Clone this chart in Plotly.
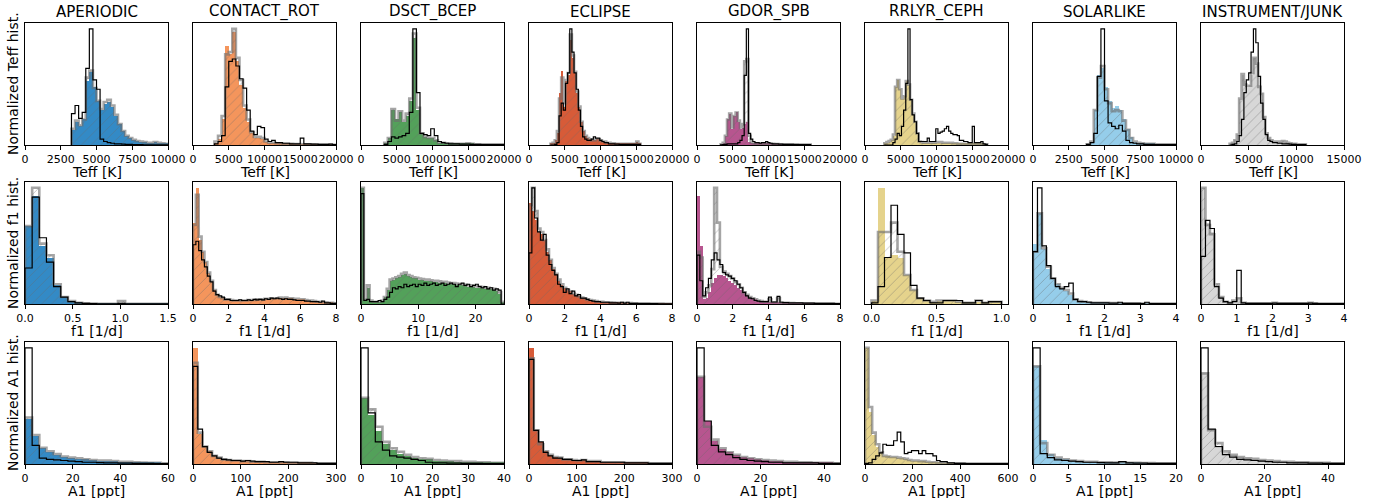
import plotly.graph_objects as go

CLASSES = ["APERIODIC", "CONTACT_ROT", "DSCT_BCEP", "ECLIPSE", "GDOR_SPB",
           "RRLYR_CEPH", "SOLARLIKE", "INSTRUMENT/JUNK"]
COLORS = ["#338ac6", "#f4955c", "#53a15a", "#d75b38", "#b7558f",
          "#e5d38c", "#95cdea", "#d7d7d7"]

ROW_FEATURES = ["Teff [K]", "f1 [1/d]", "A1 [ppt]"]
ROW_YLABELS = ["Normalized Teff hist.", "Normalized f1 hist.", "Normalized A1 hist."]

# ---------------- Row 1 : Teff  (bins = [first edge, width]) ----------------
TEFF_APERIODIC_BINS = [3250, 250]
TEFF_APERIODIC_CLS = [13, 20, 16, 22, 55, 63, 50, 38, 30, 35, 37, 33, 25, 18, 12, 8, 6, 4.5, 3.5, 3, 2.5, 2, 2, 2.5, 2, 1.5, 1]
TEFF_APERIODIC_REF = [14, 21, 17, 22, 58, 64, 49, 38, 31, 37, 39, 34, 26, 18, 12, 8, 6, 4.5, 3.5, 3, 2.5, 2, 2, 2.5, 2, 1.5, 1]
TEFF_APERIODIC_OTH = [27, 34, 23, 28, 66, 100, 56, 48, 5, 3, 2, 1.5, 1, 1, 0.8, 0.6, 0.5, 0.4, 0.3, 0.3, 0.2, 0.2, 0.2, 0.2, 0.1, 0.1, 0.1]

TEFF_CONTACT_BINS = [3000, 500]
TEFF_CONTACT_CLS = [2, 5, 22, 85, 78, 97, 72, 52, 32, 20, 10, 6, 6, 5, 3, 2, 2, 1.5, 1.5, 1, 1, 1, 0.8, 0.8, 0.6, 0.6, 0.5, 0.5, 0.4, 0.4, 0.3, 0.3, 0.3, 0.2]
TEFF_CONTACT_REF = [3, 8, 25, 78, 80, 100, 75, 56, 34, 22, 11, 7, 7, 6, 3, 2, 2, 1.5, 1.5, 1, 1, 1, 0.8, 0.8, 0.6, 0.6, 0.5, 0.5, 0.4, 0.4, 0.3, 0.3, 0.3, 0.2]
TEFF_CONTACT_OTH = [1, 3, 8, 50, 72, 74, 68, 57, 49, 30, 12, 9, 16, 15, 5, 3, 4, 2, 2, 1.5, 1.5, 1, 1, 1, 6, 1, 1, 0.8, 0.8, 0.6, 0.5, 0.5, 0.8, 0.3]

TEFF_DSCT_BINS = [3250, 500]
TEFF_DSCT_CLS = [2, 6, 30, 22, 28, 20, 25, 38, 92, 30, 10, 7, 6, 6, 4, 2, 2, 1.5, 1.5, 1, 1, 1, 1, 1.5, 1, 0.5, 0.5, 0.5, 0.5, 0.5, 0.5, 0.5, 0.5, 0.5]
TEFF_DSCT_REF = [2, 6, 31, 21, 29, 21, 27, 40, 96, 32, 10, 7, 6, 6, 4, 2, 2, 1.5, 1.5, 1, 1, 1, 1, 1.5, 1, 0.5, 0.5, 0.5, 0.5, 0.5, 0.5, 0.5, 0.5, 0.5]
TEFF_DSCT_OTH = [0.5, 3, 7, 6, 7, 8, 10, 28, 100, 45, 10, 9, 8, 14, 8, 3, 2, 1.5, 1, 1, 1, 0.8, 0.8, 0.8, 0.6, 0.5, 0.5, 0.4, 0.4, 0.3, 0.3, 0.3, 0.3, 0.3]

TEFF_ECLIPSE_BINS = [3000, 300]
TEFF_ECLIPSE_CLS = [1, 2, 4, 10, 45, 64, 33, 55, 60, 90, 75, 62, 45, 33, 20, 12, 8, 6, 5, 4, 4, 5, 5, 4, 3, 3, 2, 2, 1.5, 1.5, 1, 1, 1, 1, 1, 1, 1, 1, 1, 1, 3, 1]
TEFF_ECLIPSE_REF = [1, 2, 4, 12, 40, 58, 36, 56, 62, 95, 77, 63, 46, 33, 20, 12, 8, 6, 5, 4, 4, 5, 5, 4, 3, 3, 2, 2, 1.5, 1.5, 1, 1, 1, 1, 1, 1, 1, 1, 1, 1, 3, 1]
TEFF_ECLIPSE_OTH = [0, 0, 0.5, 2, 25, 36, 30, 53, 62, 100, 80, 62, 48, 30, 16, 7, 5, 4, 4, 5, 7, 6, 6, 4, 3, 2, 2, 1, 1, 1, 0.8, 0.8, 0.6, 0.6, 0.5, 0.5, 0.5, 0.5, 0.5, 0.5, 0.5, 0.5]

TEFF_GDOR_BINS = [3300, 300]
TEFF_GDOR_CLS = [0.5, 2, 8, 22, 27, 14, 25, 28, 20, 14, 15, 18, 20, 3, 1.5, 1, 1, 1, 1, 1, 1.5, 1, 1, 1, 1, 0.8, 0.8, 0.6, 0.6, 0.5, 0.5, 0.5, 0.5, 0.5, 0.5, 0.5, 0.4, 0.4, 0.4, 0.3, 0.3, 0.3]
TEFF_GDOR_REF = [0.5, 2, 8, 22, 27, 15, 25, 28, 21, 15, 18, 72, 74, 8, 2, 1.5, 1, 1, 1, 1, 1.5, 1, 1, 1, 1, 0.8, 0.8, 0.6, 0.6, 0.5, 0.5, 0.5, 0.5, 0.5, 0.5, 0.5, 0.4, 0.4, 0.4, 0.3, 0.3, 0.3]
TEFF_GDOR_OTH = [0.2, 0.3, 0.5, 1, 1, 1, 1, 1, 2, 4, 8, 60, 100, 10, 5, 3, 2, 2, 1.5, 2, 2, 3, 2, 1.5, 1, 1, 1, 0.8, 0.8, 0.6, 0.6, 0.5, 0.5, 0.5, 0.4, 0.4, 0.4, 0.3, 0.3, 0.3, 0.3, 0.3]

TEFF_RRLYR_BINS = [2700, 300]
TEFF_RRLYR_CLS = [1, 2, 3, 4, 8, 50, 56, 48, 40, 42, 55, 52, 39, 27, 20, 10, 3, 2, 2, 1.5, 2, 2, 1.5, 2, 2, 2, 2, 2, 2, 2, 2, 2, 1.5, 1.5, 1, 1, 1, 1, 1, 1, 1, 1, 1, 1, 1, 1, 0.5, 0.5]
TEFF_RRLYR_REF = [1.5, 2.5, 3.5, 4.5, 9, 50, 56, 48, 40, 42, 55, 52, 39, 27, 20, 10, 3, 2.5, 2, 2, 2, 2, 2, 2, 2.5, 2.5, 2.5, 2, 2, 2, 2, 2, 1.5, 1.5, 1, 1, 1, 1, 1, 1, 1, 1, 1, 1, 1, 1, 0.5, 0.5]
TEFF_RRLYR_OTH = [0, 0, 0, 0, 2, 5, 10, 8, 16, 30, 53, 100, 39, 26, 20, 10, 3, 3, 3, 3, 6, 3, 3, 3, 14, 10, 11, 12, 14, 16, 12, 10, 9, 9, 8, 4, 4, 3, 3, 2, 2, 16, 2, 2, 2, 3, 1, 0.5]

TEFF_SOLAR_BINS = [3750, 250]
TEFF_SOLAR_CLS = [0.5, 3, 30, 60, 66, 50, 38, 32, 34, 30, 22, 14, 7, 3, 2, 1.5, 1, 1, 1, 0.5, 0.5, 0.5, 0.5, 0.5, 0.5]
TEFF_SOLAR_REF = [0.5, 3, 30, 58, 68, 48, 36, 29, 30, 29, 21, 13, 6, 3, 2, 1.5, 1, 1, 1, 0.5, 0.5, 0.5, 0.5, 0.5, 0.5]
TEFF_SOLAR_OTH = [0.5, 2, 10, 59, 100, 38, 19, 16, 14, 17, 12, 4, 2, 1.5, 1, 1, 0.5, 0.5, 0.5, 0.3, 0.3, 0.3, 0.3, 0.3, 0.3]

TEFF_INSTR_BINS = [3000, 250]
TEFF_INSTR_CLS = [1, 2, 4, 9, 40, 60, 55, 50, 52, 60, 75, 70, 52, 45, 25, 10, 6, 4, 3, 3, 3, 3, 3.5, 3, 2, 1.5, 1, 1, 0.5, 0.5, 0.5, 0.5]
TEFF_INSTR_REF = [1, 2, 4, 9, 40, 61, 52, 51, 51, 62, 75, 70, 50, 44, 24, 10, 6, 4, 3, 3, 3, 3, 3.5, 3, 2, 1.5, 1, 1, 0.5, 0.5, 0.5, 0.5]
TEFF_INSTR_OTH = [0, 0.5, 1, 3, 8, 22, 45, 56, 62, 80, 100, 88, 59, 36, 22, 9, 4, 3, 2, 2, 1.5, 1.5, 1, 1, 1, 0.8, 0.5, 0.5, 0.3, 0.3, 0.3, 0.3]

# ---------------- Row 2 : f1 ----------------
F1_APERIODIC_BINS = [0, 0.075]
F1_APERIODIC_CLS = [67, 93, 50, 40, 16, 6, 2, 1, 0.5, 0.3, 0.2, 0.2, 0.2, 0.2, 0.2, 0.1, 0.1, 0.1, 0.1, 0.1]
F1_APERIODIC_REF = [67, 100, 52, 42, 17, 6, 2.5, 1, 0.5, 0.3, 0.2, 0.2, 0.2, 2.5, 0.2, 0.1, 0.1, 0.1, 0.1, 0.1]
F1_APERIODIC_OTH = [31, 92, 57, 36, 15, 6, 2, 1, 0.5, 0.3, 0.2, 0.2, 0.2, 0.5, 0.2, 0.1, 0.1, 0.1, 0.1, 0.1]

F1_CONTACT_BINS = [0, 0.16]
F1_CONTACT_CLS = [70, 100, 55, 45, 36, 27, 19, 12, 8, 6, 5, 4, 4, 3.5, 3, 3, 3, 3, 3, 3.5, 3.5, 3.5, 4, 4, 4, 4.5, 4.5, 5, 5, 5,
                  5.5, 5, 5.5, 5, 5, 4.5, 4.5, 4, 4, 3.5, 3, 3, 2.5, 2, 2, 1.5, 1.5, 1, 1, 0.5]
F1_CONTACT_REF = [68, 94, 58, 45, 36, 27, 20, 12, 8, 6, 5, 4, 4, 3.5, 3, 3, 3, 3, 3, 3.5, 3.5, 3.5, 4, 4, 4, 4.5, 4.5, 5, 5, 5,
                  5.5, 5, 5.5, 5, 5, 4.5, 4.5, 4, 4, 3.5, 3, 3, 2.5, 2, 2, 1.5, 1.5, 1, 1, 0.5]
F1_CONTACT_OTH = [51, 54, 46, 38, 32, 24, 19, 11, 8, 7, 6, 4, 4, 3, 3, 3, 3.5, 3, 3, 3.5, 3, 4, 3.5, 4, 3.5, 4.5, 4, 5, 4.5, 5,
                  4.5, 4, 4.5, 4, 4, 3.5, 3, 3, 3, 2.5, 2.5, 2, 2, 2, 1.5, 2.5, 1, 1, 0.5, 0.5]

F1_DSCT_BINS = [0, 0.5]
F1_DSCT_CLS = [100, 4, 14, 3, 2, 2, 2, 3, 6, 12, 20, 21, 22, 23, 25, 26, 24, 23, 22, 22,
               21, 20.5, 20, 20, 19.5, 19, 19, 18.5, 18, 18, 17.5, 17, 17, 16.5, 16, 16, 15.5, 15, 15, 14.5,
               14, 14, 13.5, 13, 13, 12.5, 12, 11, 9, 2]
F1_DSCT_REF = [100, 4, 16, 3, 2, 2, 2, 3, 6, 13, 21, 22, 23, 24, 26, 27, 25, 24, 23, 22.5,
               22, 21.5, 21, 21, 20.5, 20, 20, 19.5, 19, 19, 18.5, 18, 18, 17.5, 17, 17, 16.5, 16, 16, 15.5,
               15, 15, 14.5, 14, 14, 13.5, 13, 12, 10, 2]
F1_DSCT_OTH = [95, 3, 4, 2, 2, 2, 3, 2, 4, 6, 10, 14, 13, 15, 14, 17, 15, 16, 17, 15,
               17, 16, 18, 16, 17, 18, 16, 17, 18, 16, 17, 18, 17, 15, 17, 18, 16, 17, 15, 16,
               17, 15, 14, 15, 13, 14, 12, 13, 12, 0]

F1_ECLIPSE_BINS = [0, 0.16]
F1_ECLIPSE_CLS = [87, 80, 72, 62, 60, 55, 45, 38, 30, 26, 20, 16, 14, 12, 11, 9, 8, 6.5, 5.5, 5, 4, 3.5, 3, 2.5, 2, 2, 1.5, 1.5, 1.5, 1.2,
                  1, 1, 1, 0.8, 0.8, 0.8, 0.7, 0.7, 0.6, 0.6, 0.5, 0.5, 0.4, 0.4, 0.3, 0.3, 0.3, 0.2, 0.2, 0.2]
F1_ECLIPSE_REF = [85, 100, 80, 65, 62, 55, 47, 38, 31, 26, 21, 17, 14, 12, 11, 9, 8, 6.5, 5.5, 5, 4, 3.5, 3, 2.5, 2, 2, 1.5, 1.5, 1.5, 1.2,
                  1, 1, 1, 0.8, 0.8, 0.8, 0.7, 0.7, 0.6, 0.6, 0.5, 0.5, 0.4, 0.4, 0.3, 0.3, 0.3, 0.2, 0.2, 0.2]
F1_ECLIPSE_OTH = [44, 100, 74, 62, 55, 60, 42, 34, 29, 25, 17, 15, 10, 13, 9, 11, 7, 8, 5, 5, 4, 3, 2.5, 2, 2, 1.5, 1.5, 1.5, 1, 1,
                  1, 0.8, 1.5, 0.8, 1.5, 0.5, 0.5, 0.5, 0.4, 0.4, 0.4, 0.3, 0.3, 0.3, 0.3, 0.2, 0.2, 0.2, 0.2, 0.2]

F1_GDOR_BINS = [0, 0.16]
F1_GDOR_CLS = [93, 50, 4, 5, 10, 18, 22, 25, 25, 24, 22, 20, 18, 16, 14, 12, 10, 8, 6, 5, 4, 3, 2.5, 2, 1.5, 1.2, 1, 1, 1, 0.8,
               0.8, 0.7, 0.7, 0.6, 0.6, 0.5, 0.5, 0.5, 0.4, 0.4, 0.4, 0.3, 0.3, 0.3, 0.3, 0.3, 0.2, 0.2, 0.2, 0.2]
F1_GDOR_REF = [45, 40, 6, 10, 16, 30, 100, 70, 32, 28, 26, 24, 22, 19, 17, 14, 10, 8, 6, 5, 4, 3, 2.5, 2, 2, 4, 1.5, 1.5, 5, 1.2,
               1, 1, 0.8, 0.8, 0.7, 0.7, 0.6, 0.6, 0.5, 0.5, 0.5, 0.4, 0.4, 0.4, 0.3, 0.3, 0.3, 0.3, 0.2, 0.2]
F1_GDOR_OTH = [42, 20, 7, 14, 22, 38, 44, 38, 34, 27, 25, 24, 22, 20, 17, 14, 10, 7, 5, 4.5, 3, 2.5, 2, 2, 2, 6, 1.7, 1.7, 6.6, 1.5,
               1.2, 1.2, 1, 1, 1, 1, 1, 0.8, 0.8, 0.8, 0.8, 0.6, 0.6, 0.6, 0.5, 0.5, 0.5, 0.5, 0.4, 0.4]

F1_RRLYR_BINS = [0, 0.05]
F1_RRLYR_CLS = [3, 100, 40, 42, 40, 25, 12, 5, 3, 2, 3, 3, 3, 2, 1, 1, 2, 1, 2, 2]
F1_RRLYR_REF = [3, 62, 62, 70, 45, 25, 12, 5, 3, 2, 3, 3, 3, 2, 1, 1, 3, 1, 2, 2]
F1_RRLYR_OTH = [1, 15, 40, 85, 60, 44, 16, 5, 3, 1, 1, 3, 3, 3, 1, 1, 3, 1, 2, 2]

F1_SOLAR_BINS = [0, 0.125]
F1_SOLAR_CLS = [52, 78, 47, 30, 22, 17, 13, 11, 8, 4, 2.5, 2, 1.5, 1, 1, 1, 1, 0.8, 0.8, 0.6, 0.6, 0.5, 0.5, 0.5, 0.4, 0.4, 0.4, 0.3, 0.3, 0.3, 0.3, 0.3]
F1_SOLAR_REF = [45, 78, 48, 32, 22, 17, 14, 12, 9, 4, 2.5, 2, 1.5, 1, 1, 1, 1, 0.8, 0.8, 0.6, 0.6, 0.5, 0.5, 0.5, 0.4, 0.4, 0.4, 0.3, 0.3, 0.3, 0.3, 0.3]
F1_SOLAR_OTH = [45, 100, 50, 33, 22, 15, 13, 15, 18, 4, 2, 2, 1.5, 1, 1, 1, 1, 0.8, 0.8, 1.5, 0.6, 0.5, 0.5, 0.5, 0.4, 1.5, 0.4, 0.3, 0.3, 0.3, 0.3, 0.3]

F1_INSTR_BINS = [0, 0.125]
F1_INSTR_CLS = [100, 70, 62, 16, 6, 2, 1, 3, 5, 1, 0.5, 0.5, 0.5, 0.5, 0.5, 0.5, 1, 0.5, 0.5, 0.5, 0.5, 0.5, 0.5, 0.5, 1, 0.5, 0.3, 0.3, 0.3, 0.3, 0.3, 0.3]
F1_INSTR_REF = [100, 68, 60, 17, 6, 2, 1, 3, 5, 1, 0.5, 0.5, 0.5, 0.5, 0.5, 0.5, 1, 0.5, 0.5, 0.5, 0.5, 0.5, 0.5, 0.5, 1, 0.5, 0.3, 0.3, 0.3, 0.3, 0.3, 0.3]
F1_INSTR_OTH = [41, 72, 65, 15, 5, 2, 1, 2, 29, 1, 0.5, 0.5, 0.5, 0.5, 0.5, 0.5, 0.8, 0.5, 0.5, 0.5, 0.5, 0.5, 0.5, 0.5, 0.8, 0.5, 0.3, 0.3, 0.3, 0.3, 0.3, 0.3]

# ---------------- Row 3 : A1 ----------------
A1_APERIODIC_BINS = [0, 3]
A1_APERIODIC_CLS = [39, 24, 13.5, 10.5, 8, 6, 5.5, 4.5, 4, 3.5, 3, 2.5, 2.5, 2, 1.5, 1.5, 1, 1, 1, 0.5]
A1_APERIODIC_REF = [40, 25, 14, 11, 8.5, 6.5, 5.5, 5, 4, 3.5, 3, 3, 2.5, 2, 2, 1.5, 1.2, 1, 1, 0.5]
A1_APERIODIC_OTH = [100, 16, 5, 4, 3.5, 3, 2.5, 2, 1.5, 1.5, 1.2, 1, 1, 0.8, 0.8, 0.6, 0.5, 0.5, 0.4, 0.3]

A1_CONTACT_BINS = [0, 10]
A1_CONTACT_CLS = [100, 26, 15, 11, 7, 5.5, 4, 3.5, 3, 3, 2.5, 2.5, 2, 2, 2, 1.5, 1.5, 1.5, 1.5, 1.5, 1, 1, 1, 1, 1, 0.5, 0.5, 0.5, 0.5, 0.5]
A1_CONTACT_REF = [87, 27, 15, 11, 7, 5.5, 4, 3.5, 3, 3, 2.5, 2.5, 2, 2, 2, 1.5, 1.5, 1.5, 1.5, 1.5, 1, 1, 1, 1, 1, 0.5, 0.5, 0.5, 0.5, 0.5]
A1_CONTACT_OTH = [84, 30, 15, 10, 7, 5, 4, 3.5, 3, 3, 2.5, 3, 2.5, 2, 2, 2, 1.5, 1.5, 2, 1.5, 1.5, 1.5, 1, 1, 1, 1, 0.5, 0.5, 0.5, 0.5]

A1_DSCT_BINS = [0, 2]
A1_DSCT_CLS = [57, 42, 28, 17, 12, 9, 7, 5.5, 4.5, 4, 3, 2.5, 2.5, 2, 2, 1.5, 1.5, 1, 1, 1]
A1_DSCT_REF = [57, 47, 32, 19, 13.5, 10.5, 8, 6, 5, 4.5, 3.5, 3, 2.5, 2.5, 2, 2, 1.5, 1.5, 1, 1]
A1_DSCT_OTH = [100, 44, 19, 12, 7, 6, 5, 4, 3, 1.5, 1, 1, 0.8, 0.8, 0.6, 0.5, 0.5, 0.4, 0.4, 0.3]

A1_ECLIPSE_BINS = [0, 10]
A1_ECLIPSE_CLS = [100, 29, 19, 11, 8, 6, 5.5, 4, 4, 3.5, 3, 3.5, 2.5, 2.5, 2.5, 1.5, 1.5, 1.5, 1.5, 1.5, 1, 1, 1, 1, 1, 0.5, 0.5, 0.5, 0.5, 0.5]
A1_ECLIPSE_REF = [91, 29, 17, 11, 8, 6, 5.5, 4, 4, 3.5, 3, 3.5, 2.5, 2.5, 2.5, 1.5, 1.5, 1.5, 1.5, 1.5, 1, 1, 1, 1, 1, 0.5, 0.5, 0.5, 0.5, 0.5]
A1_ECLIPSE_OTH = [90, 29, 19, 10, 7, 5, 5, 4, 4, 3, 3, 3.5, 2, 2, 2, 1.5, 1.5, 1.5, 1.5, 1.5, 1, 1, 1, 1, 1, 0.5, 0.5, 0.5, 0.5, 0.5]

A1_GDOR_BINS = [0, 2.25]
A1_GDOR_CLS = [75, 37, 20, 13, 10, 8, 6, 5, 4, 3.5, 3, 2.5, 2, 2, 1.5, 1.5, 1, 1, 1, 0.5]
A1_GDOR_REF = [75, 32, 21, 13.5, 10, 8, 6, 5, 4, 3.5, 3, 2.5, 2, 2, 1.5, 1.5, 1, 1, 1, 0.5]
A1_GDOR_OTH = [100, 37, 16, 10.5, 8, 5.5, 4, 3, 2.5, 2, 1.5, 1.5, 1, 1, 1, 1, 1, 0.5, 0.5, 0.5]

A1_RRLYR_BINS = [0, 15]
A1_RRLYR_CLS = [100, 45, 25, 15, 10, 7, 6.5, 6, 6, 5.5, 5, 4.5, 3.5, 3, 3, 2.5, 2.5, 2, 1.5, 1.5,
                1, 0.8, 0.7, 0.6, 0.5, 0.5, 0.5, 0.5, 0.4, 0.4, 0.4, 0.4, 0.3, 0.3, 0.3, 0.3, 0.3, 0.3, 0.3, 0.3]
A1_RRLYR_REF = [100, 49, 27, 17, 10, 7, 6.5, 6, 6, 5.5, 5, 4.5, 3.5, 3, 3, 2.5, 2.5, 2, 1.5, 1.5,
                1, 0.8, 0.7, 0.6, 0.5, 0.5, 0.5, 0.5, 0.4, 0.4, 0.4, 0.4, 0.3, 0.3, 0.3, 0.3, 0.3, 0.3, 0.3, 0.3]
A1_RRLYR_OTH = [0.5, 1, 4, 7, 9.5, 17, 16, 16, 20, 27.5, 19, 9, 10, 11.5, 11.5, 9, 11.5, 9, 9, 7,
                3, 2, 2, 1, 1, 0.5, 0.5, 0.5, 0.4, 0.4, 0.3, 0.3, 0.3, 0.3, 0.3, 0.3, 0.3, 0.3, 0.3, 0.3]

A1_SOLAR_BINS = [0, 1]
A1_SOLAR_CLS = [84, 21, 9, 5.5, 4, 3, 2.5, 2, 2, 1.5, 1.5, 1.2, 1.5, 1, 1, 0.8, 0.8, 0.6, 0.5, 0.5]
A1_SOLAR_REF = [84, 18, 8, 5.5, 4, 3, 2.5, 2, 2, 1.5, 1.5, 1.2, 1.5, 1, 1, 0.8, 0.8, 0.6, 0.5, 0.5]
A1_SOLAR_OTH = [100, 9, 5.5, 3.5, 3, 2.5, 2, 1.5, 1.5, 1.2, 1, 1, 2, 1, 0.8, 0.8, 0.6, 0.6, 0.5, 0.5]

A1_INSTR_BINS = [0, 2.25]
A1_INSTR_CLS = [78, 29, 13.5, 10.5, 8, 6, 5, 4.5, 3.5, 3, 2.5, 2, 2, 1.5, 1.5, 1, 1, 1, 0.5, 0.5]
A1_INSTR_REF = [78, 29, 18, 11, 8, 6, 5, 4.5, 3.5, 3, 2.5, 2, 2, 1.5, 1.5, 1, 1, 1, 0.5, 0.5]
A1_INSTR_OTH = [100, 30, 15, 8, 6, 4, 3.5, 3, 2.5, 2, 1.5, 1.5, 1, 1, 1, 0.8, 0.8, 0.5, 0.5, 0.5]

# ---------------- axes ----------------
X_RANGES = [
    [[0, 10000], [0, 20000], [0, 20000], [0, 20000], [0, 20000], [0, 20000], [0, 10000], [0, 15000]],
    [[0, 1.5], [0, 8], [0, 25], [0, 8], [0, 8], [-0.05, 1.05], [0, 4], [0, 4]],
    [[0, 60], [0, 300], [0, 40], [0, 300], [0, 45], [0, 600], [0, 20], [0, 45]],
]
X_TICKS = [
    [[0, 2500, 5000, 7500, 10000]] + [[0, 5000, 10000, 15000, 20000]] * 5
    + [[0, 2500, 5000, 7500, 10000], [0, 5000, 10000, 15000]],
    [[0, 0.5, 1.0, 1.5], [0, 2, 4, 6, 8], [0, 10, 20], [0, 2, 4, 6, 8], [0, 2, 4, 6, 8],
     [0, 0.5, 1.0], [0, 1, 2, 3, 4], [0, 1, 2, 3, 4]],
    [[0, 20, 40, 60], [0, 100, 200, 300], [0, 10, 20, 30, 40], [0, 100, 200, 300], [0, 20, 40],
     [0, 200, 400, 600], [0, 5, 10, 15, 20], [0, 20, 40]],
]
X_TICK_DECIMALS = [[0] * 8, [1, 0, 0, 0, 0, 1, 0, 0], [0] * 8]

PANELS = [
    [(TEFF_APERIODIC_BINS, TEFF_APERIODIC_CLS, TEFF_APERIODIC_REF, TEFF_APERIODIC_OTH),
     (TEFF_CONTACT_BINS, TEFF_CONTACT_CLS, TEFF_CONTACT_REF, TEFF_CONTACT_OTH),
     (TEFF_DSCT_BINS, TEFF_DSCT_CLS, TEFF_DSCT_REF, TEFF_DSCT_OTH),
     (TEFF_ECLIPSE_BINS, TEFF_ECLIPSE_CLS, TEFF_ECLIPSE_REF, TEFF_ECLIPSE_OTH),
     (TEFF_GDOR_BINS, TEFF_GDOR_CLS, TEFF_GDOR_REF, TEFF_GDOR_OTH),
     (TEFF_RRLYR_BINS, TEFF_RRLYR_CLS, TEFF_RRLYR_REF, TEFF_RRLYR_OTH),
     (TEFF_SOLAR_BINS, TEFF_SOLAR_CLS, TEFF_SOLAR_REF, TEFF_SOLAR_OTH),
     (TEFF_INSTR_BINS, TEFF_INSTR_CLS, TEFF_INSTR_REF, TEFF_INSTR_OTH)],
    [(F1_APERIODIC_BINS, F1_APERIODIC_CLS, F1_APERIODIC_REF, F1_APERIODIC_OTH),
     (F1_CONTACT_BINS, F1_CONTACT_CLS, F1_CONTACT_REF, F1_CONTACT_OTH),
     (F1_DSCT_BINS, F1_DSCT_CLS, F1_DSCT_REF, F1_DSCT_OTH),
     (F1_ECLIPSE_BINS, F1_ECLIPSE_CLS, F1_ECLIPSE_REF, F1_ECLIPSE_OTH),
     (F1_GDOR_BINS, F1_GDOR_CLS, F1_GDOR_REF, F1_GDOR_OTH),
     (F1_RRLYR_BINS, F1_RRLYR_CLS, F1_RRLYR_REF, F1_RRLYR_OTH),
     (F1_SOLAR_BINS, F1_SOLAR_CLS, F1_SOLAR_REF, F1_SOLAR_OTH),
     (F1_INSTR_BINS, F1_INSTR_CLS, F1_INSTR_REF, F1_INSTR_OTH)],
    [(A1_APERIODIC_BINS, A1_APERIODIC_CLS, A1_APERIODIC_REF, A1_APERIODIC_OTH),
     (A1_CONTACT_BINS, A1_CONTACT_CLS, A1_CONTACT_REF, A1_CONTACT_OTH),
     (A1_DSCT_BINS, A1_DSCT_CLS, A1_DSCT_REF, A1_DSCT_OTH),
     (A1_ECLIPSE_BINS, A1_ECLIPSE_CLS, A1_ECLIPSE_REF, A1_ECLIPSE_OTH),
     (A1_GDOR_BINS, A1_GDOR_CLS, A1_GDOR_REF, A1_GDOR_OTH),
     (A1_RRLYR_BINS, A1_RRLYR_CLS, A1_RRLYR_REF, A1_RRLYR_OTH),
     (A1_SOLAR_BINS, A1_SOLAR_CLS, A1_SOLAR_REF, A1_SOLAR_OTH),
     (A1_INSTR_BINS, A1_INSTR_CLS, A1_INSTR_REF, A1_INSTR_OTH)],
]

# ---------------- geometry / style ----------------
FW, FH = 1390, 498
COL_LEFT = [25 + 168 * i for i in range(8)]
COL_W = 143
ROW_PX = [(23, 145), (182, 304), (342, 464)]
FONT = "DejaVu Sans"
HATCH = "rgba(105,105,105,0.75)"
EDGE = "rgba(110,110,110,0.62)"


def step_xy(edges, vals):
    xs = [edges[0]] + edges[:-1] + [edges[-1], edges[-1]]
    ys = [0] + list(vals) + [vals[-1], 0]
    return xs, ys


fig = go.Figure()
annotations = []
layout_axes = {}

for r in range(3):
    top, bot = ROW_PX[r]
    yd = [1 - bot / FH, 1 - top / FH]
    for c in range(8):
        idx = r * 8 + c + 1
        xa = "x" if idx == 1 else f"x{idx}"
        ya = "y" if idx == 1 else f"y{idx}"
        bins, cls, ref, oth = PANELS[r][c]
        lo, w = bins
        n = len(cls)
        edges = [lo + w * i for i in range(n + 1)]
        centers = [lo + w * (i + 0.5) for i in range(n)]

        fig.add_trace(go.Bar(x=centers, y=cls, width=w, xaxis=xa, yaxis=ya,
                             marker=dict(color=COLORS[c], line=dict(width=0)),
                             showlegend=False, hoverinfo="skip"))
        fig.add_trace(go.Bar(x=centers, y=ref, width=w, xaxis=xa, yaxis=ya,
                             marker=dict(color="rgba(0,0,0,0)", line=dict(width=0),
                                         pattern=dict(shape="/", fgcolor=HATCH,
                                                      bgcolor="rgba(0,0,0,0)",
                                                      fillmode="overlay", size=7,
                                                      solidity=0.14)),
                             showlegend=False, hoverinfo="skip"))
        sx, sy = step_xy(edges, ref)
        fig.add_trace(go.Scatter(x=sx, y=sy, mode="lines", xaxis=xa, yaxis=ya,
                                 line=dict(shape="hv", color=EDGE, width=2.6),
                                 showlegend=False, hoverinfo="skip"))
        kx, ky = step_xy(edges, oth)
        fig.add_trace(go.Scatter(x=kx, y=ky, mode="lines", xaxis=xa, yaxis=ya,
                                 line=dict(shape="hv", color="black", width=1.2),
                                 showlegend=False, hoverinfo="skip"))

        ymax = max(max(cls), max(ref), max(oth)) * 1.05
        xd = [COL_LEFT[c] / FW, (COL_LEFT[c] + COL_W) / FW]
        ticks = X_TICKS[r][c]
        dec = X_TICK_DECIMALS[r][c]
        ticktext = [f"{t:.{dec}f}" for t in ticks]
        xname = "xaxis" if idx == 1 else f"xaxis{idx}"
        yname = "yaxis" if idx == 1 else f"yaxis{idx}"
        layout_axes[xname] = dict(domain=xd, anchor=ya, range=X_RANGES[r][c],
                                  tickvals=ticks, ticktext=ticktext, tickangle=0,
                                  ticks="outside", ticklen=4, tickwidth=1,
                                  tickcolor="black", showline=True, mirror=True,
                                  linecolor="black", linewidth=1, showgrid=False,
                                  zeroline=False, automargin=False,
                                  tickfont=dict(family=FONT, size=11, color="black"))
        layout_axes[yname] = dict(domain=yd, anchor=xa, range=[0, ymax],
                                  showticklabels=False, ticks="", showline=True,
                                  mirror=True, linecolor="black", linewidth=1,
                                  showgrid=False, zeroline=False, automargin=False)

        xc = (COL_LEFT[c] + COL_W / 2) / FW
        if r == 0:
            annotations.append(dict(text=CLASSES[c], x=xc, y=1 - top / FH,
                                    xref="paper", yref="paper", xanchor="center",
                                    yanchor="bottom", showarrow=False, yshift=0,
                                    font=dict(family=FONT, size=15, color="black")))
        annotations.append(dict(text=ROW_FEATURES[r], x=xc, y=1 - (bot + 27) / FH,
                                xref="paper", yref="paper", xanchor="center",
                                yanchor="middle", showarrow=False,
                                font=dict(family=FONT, size=14, color="black")))
    annotations.append(dict(text=ROW_YLABELS[r], x=13 / FW, y=1 - (top + bot) / 2 / FH,
                            xref="paper", yref="paper", xanchor="center",
                            yanchor="middle", textangle=-90, showarrow=False,
                            font=dict(family=FONT, size=14, color="black")))

fig.update_layout(width=FW, height=FH, autosize=False,
                  margin=dict(l=0, r=0, t=0, b=0, pad=0),
                  paper_bgcolor="white", plot_bgcolor="white",
                  barmode="overlay", bargap=0, annotations=annotations,
                  font=dict(family=FONT, color="black"), **layout_axes)

POST = ("document.body.style.margin='0';document.body.style.padding='0';"
        "document.body.style.overflow='hidden';"
        "var gd=document.getElementById('{plot_id}');"
        "Plotly.relayout(gd,{width:1390,height:498});")

fig.write_html("out.html", config={"responsive": False, "displayModeBar": False},
               post_script=POST)
